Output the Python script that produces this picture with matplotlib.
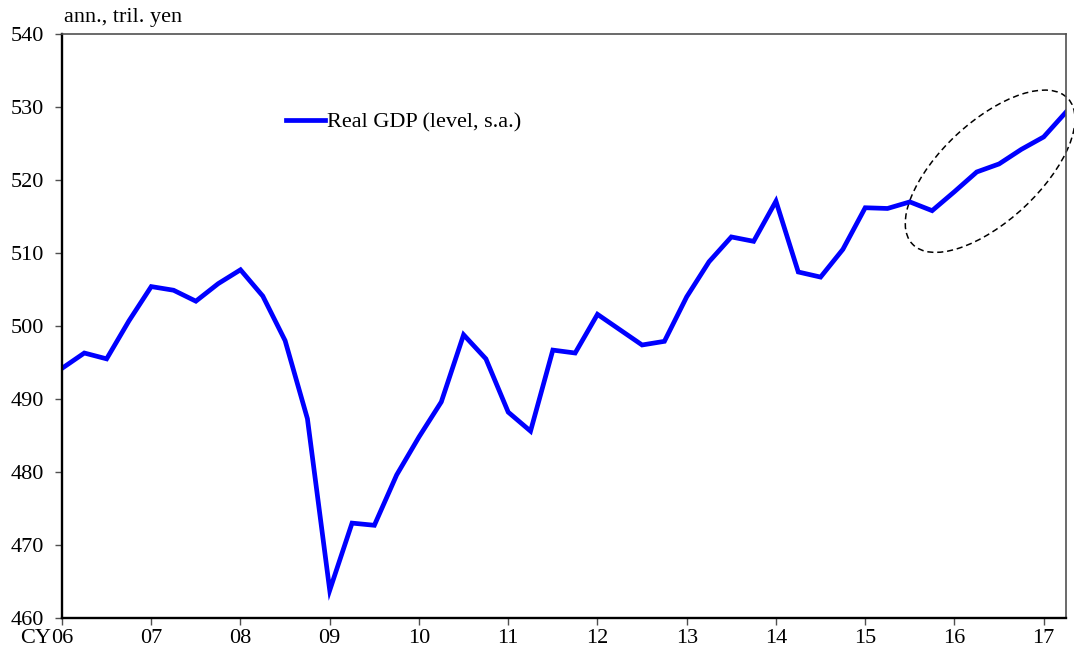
import numpy as np
import matplotlib
matplotlib.use("Agg")
import matplotlib.pyplot as plt
from matplotlib.patches import Ellipse
from matplotlib import transforms

plt.rcParams['font.family'] = ['Liberation Serif', 'DejaVu Serif']

# Real GDP, quarterly, 2006Q1 - 2017Q2 (ann., tril. yen)
gdp = [494.2, 496.3, 495.5, 500.7,
       505.4, 504.9, 503.4, 505.8,
       507.7, 504.1, 498.0, 487.3,
       463.8, 473.0, 472.7, 479.6,
       484.8, 489.6, 498.8, 495.5,
       488.2, 485.6, 496.7, 496.3,
       501.6, 499.5, 497.4, 497.9,
       504.0, 508.8, 512.2, 511.6,
       517.1, 507.4, 506.7, 510.5,
       516.2, 516.1, 517.0, 515.8,
       518.4, 521.1, 522.2, 524.2,
       525.9, 529.3]
t = 2006 + np.arange(len(gdp)) / 4

years = np.arange(2006, 2018)
year_labels = ['%02d' % (y % 100) for y in years]
y_ticks = np.arange(460, 541, 10)

fs = 16

fig = plt.figure(figsize=(10.74, 6.55), dpi=100)
ax = fig.add_axes([62 / 1074, 1 - 618 / 655, 1004 / 1074, 584 / 655])

ax.plot(t, gdp, color='#0000ff', lw=3.4, solid_joinstyle='miter',
        label='Real GDP (level, s.a.)')

ax.set_xlim(t[0], t[-1])
ax.set_ylim(460, 540)
ax.set_xticks(years)
ax.set_xticklabels(year_labels)
ax.set_yticks(y_ticks)

for s in ['left', 'bottom']:
    ax.spines[s].set_linewidth(1.7)
    ax.spines[s].set_color('black')
for s in ['top', 'right']:
    ax.spines[s].set_linewidth(1.2)
    ax.spines[s].set_color('#505050')

ax.tick_params(axis='both', direction='out', length=5, width=1,
               color='#505050', labelsize=fs)
ax.tick_params(axis='y', pad=8)
ax.tick_params(axis='x', pad=3)

# "CY" prefix left of the first year label
ax.annotate('CY', xy=(t[0], 0), xycoords=('data', 'axes fraction'),
            xytext=(-8, -7.6), textcoords='offset points',
            ha='right', va='top', fontsize=fs)

ax.text(0.002, 1.012, 'ann., tril. yen', transform=ax.transAxes,
        ha='left', va='bottom', fontsize=fs)

ax.legend(loc='center left', bbox_to_anchor=(0.223, 0.849), frameon=False,
          fontsize=fs, handlelength=1.75, handletextpad=0.1,
          borderpad=0, borderaxespad=0)

# dashed ellipse around the latest rise (size in inches, centred in data)
ell_center = (2016.40, 521.2)
ell_trans = fig.dpi_scale_trans + transforms.ScaledTranslation(
    ell_center[0], ell_center[1], ax.transData)
ell = Ellipse((0, 0), 2.13, 0.99, angle=43, fill=False, ls=(0, (4, 2.5)),
              lw=1.1, ec='black', transform=ell_trans, clip_on=False)
ax.add_patch(ell)

fig.savefig('out.png', dpi=100)
